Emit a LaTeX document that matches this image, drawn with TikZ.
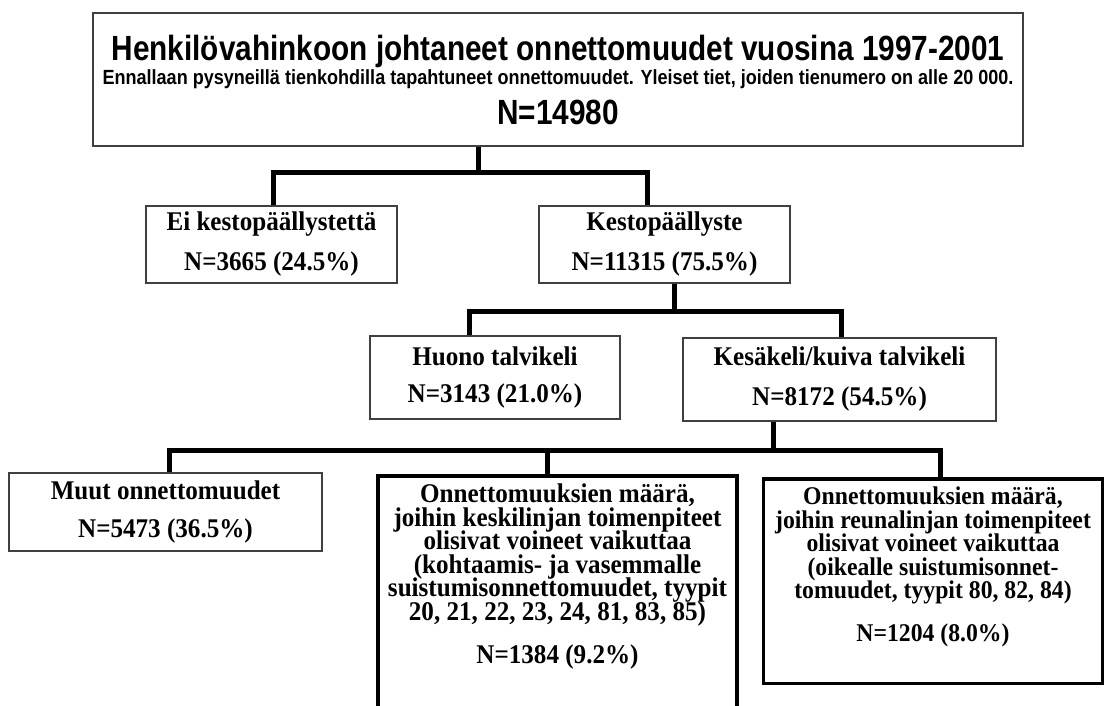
\documentclass[tikz,border=0pt]{standalone}
\usepackage{fontspec}
\setmainfont{Liberation Serif}[FakeStretch=0.93]
\newfontfamily\headfont{Liberation Sans}[FakeStretch=0.85]
\newfontfamily\subfont{Liberation Sans}[FakeStretch=0.88]
\usetikzlibrary{positioning}
\newcommand{\tightlines}{\setlength{\lineskiplimit}{-100pt}\setlength{\lineskip}{0pt}}

\begin{document}
\begin{tikzpicture}[x=1pt,y=-1pt,
    box/.style = {draw=black!75, line width=1.2pt, fill=white, align=center, inner sep=0pt,
      font=\tightlines\fontsize{27}{23.6}\selectfont\bfseries},
    heavybox/.style = {box, draw=black, line width=3.5pt},
    link/.style = {line width=5pt, line join=miter}]
  \useasboundingbox (0,0) rectangle (1106,706);
  \clip (0,0) rectangle (1106,706);
  % top level
  \node[box, minimum width=930, minimum height=133] (total) at (558,79.5)
    {{\headfont\fontsize{35}{24}\selectfont Henkilövahinkoon johtaneet onnettomuudet vuosina 1997-2001}\\[0.4pt]
     {\subfont\fontsize{20.5}{24}\selectfont Ennallaan pysyneillä tienkohdilla tapahtuneet onnettomuudet. Yleiset tiet, joiden tienumero on alle 20 000.}\\[16.4pt]
     {\headfont\fontsize{35}{24}\selectfont N=14980}};
  % pavement
  \node[box, minimum width=251, minimum height=77] (nopave) at (271.5,244.5)
    {Ei kestopäällystettä\\[16.4pt] N=3665 (24.5\%)};
  \node[box, minimum width=251, minimum height=77] (pave) at (664.5,244.5)
    {Kestopäällyste\\[16.4pt] N=11315 (75.5\%)};
  % weather
  \node[box, minimum width=250, minimum height=83] (winter) at (495,377.5)
    {Huono talvikeli\\[14pt] N=3143 (21.0\%)};
  \node[box, minimum width=313, minimum height=83] (summer) at (839.5,379.5)
    {Kesäkeli/kuiva talvikeli\\[16.4pt] N=8172 (54.5\%)};
  % accident types
  \node[box, minimum width=313, minimum height=78] (other) at (165.5,512)
    {Muut onnettomuudet\\[14pt] N=5473 (36.5\%)};
  \node[heavybox, minimum width=359, inner ysep=8pt, anchor=north] (centre) at (557.5,474)
    {Onnettomuuksien määrä,\\ joihin keskilinjan toimenpiteet\\ olisivat voineet vaikuttaa\\
     (kohtaamis- ja vasemmalle\\ suistumisonnettomuudet, tyypit\\ 20, 21, 22, 23, 24, 81, 83, 85)\\[19.4pt]
     N=1384 (9.2\%)\\[20pt]\mbox{}};
  \node[heavybox, minimum width=339, inner ysep=8pt, anchor=north,
        font=\tightlines\fontsize{25.5}{23.6}\selectfont\bfseries] (edge) at (933,477)
    {Onnettomuuksien määrä,\\ joihin reunalinjan toimenpiteet\\ olisivat voineet vaikuttaa\\
     (oikealle suistumisonnet-\\ tomuudet, tyypit 80, 82, 84)\\[19.4pt]
     N=1204 (8.0\%)\\[10pt]\mbox{}};
  % connectors
  \coordinate (j1) at (478,173);
  \coordinate (j2) at (674,311);
  \coordinate (j3) at (773,450);
  \draw[link] (total.south -| j1) -- (j1);
  \draw[link] ([xshift=2pt]nopave.north) |- (j1) -| ([xshift=-17pt]pave.north);
  \draw[link] (pave.south -| j2) -- (j2);
  \draw[link] ([xshift=-26pt]winter.north) |- (j2) -| ([xshift=2pt]summer.north);
  \draw[link] (summer.south -| j3) -- (j3);
  \draw[link] ([xshift=4pt]other.north) |- (j3) -| ([xshift=7pt]edge.north);
  \draw[link] (j3 -| centre.north) ++(-10,0) -- ([xshift=-10pt]centre.north);
\end{tikzpicture}
\end{document}
